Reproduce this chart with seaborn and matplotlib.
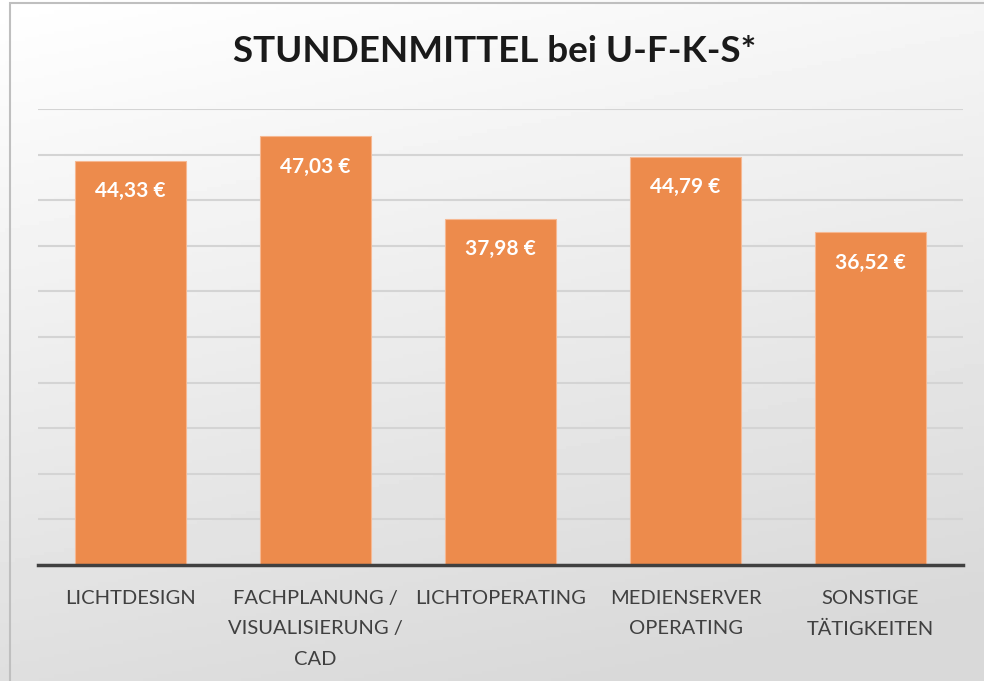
import numpy as np
import pandas as pd
import matplotlib
matplotlib.use("Agg")
import matplotlib.pyplot as plt
from matplotlib.patches import Rectangle
import seaborn as sns

# chart data
categories = ["LICHTDESIGN", "FACHPLANUNG /\nVISUALISIERUNG /\nCAD", "LICHTOPERATING",
              "MEDIENSERVER\nOPERATING", "SONSTIGE\nTÄTIGKEITEN"]
values = [44.33, 47.03, 37.98, 44.79, 36.52]
title = "STUNDENMITTEL bei U-F-K-S*"

sns.set_theme(style="white")
plt.rcParams['font.family'] = ['Lato', 'DejaVu Sans']

W, H = 984, 681
fig = plt.figure(figsize=(W / 100, H / 100), dpi=100)

# gradient background (white top-left to light gray bottom)
bg = fig.add_axes([0, 0, 1, 1], zorder=-10)
yy, xx = np.mgrid[0:1:200j, 0:1:200j]
shade = 1.0 - 0.15 * np.clip(0.85 * yy + 0.25 * xx, 0, 1)
bg.imshow(shade, cmap="gray", vmin=0, vmax=1, aspect="auto",
          extent=[0, 1, 0, 1], origin="upper")
bg.axis("off")

# outer frame
fig.patches.append(Rectangle((10 / W, -0.01), 1.02, 1 - 3 / H + 0.01, transform=fig.transFigure,
                             fill=False, edgecolor="#BFBFBF", linewidth=1.5))

left, right, bottom, top = 38, 963, 565, 109
ax = fig.add_axes([left / W, 1 - bottom / H, (right - left) / W, (bottom - top) / H])
ax.patch.set_alpha(0)

df = pd.DataFrame({"cat": categories, "val": values})
sns.barplot(data=df, x="cat", y="val", ax=ax, color="#ED8B4C", width=0.605,
            saturation=1, edgecolor="#F6B892", linewidth=0.8, zorder=3)

ax.set_ylim(0, 50)
ax.set_xlim(-0.5, 4.5)
ax.set_yticks(np.arange(5, 51, 5))
ax.yaxis.grid(True, color="#D4D4D4", linewidth=1.5, zorder=0)
ax.set_axisbelow(True)
ax.tick_params(axis="y", left=False, labelleft=False)
ax.tick_params(axis="x", bottom=False, pad=12)
for s in ["left", "right", "top"]:
    ax.spines[s].set_visible(False)
ax.spines["bottom"].set_color("#404040")
ax.spines["bottom"].set_linewidth(2.5)
ax.spines["bottom"].set_zorder(5)
ax.set_xlabel("")
ax.set_ylabel("")
for lbl in ax.get_xticklabels():
    lbl.set_fontsize(14.5)
    lbl.set_color("#404040")
    lbl.set_linespacing(1.95)
    lbl.set_verticalalignment("top")

for i, v in enumerate(values):
    ax.annotate(f"{v:.2f}".replace(".", ",") + " €", (i, v), xytext=(0, -22),
                textcoords="offset points", ha="center", va="center",
                fontsize=15, fontweight="bold", color="white", zorder=6)

fig.text(0.503, 1 - 51 / H, title, ha="center", va="center", fontsize=26.5,
         fontweight="bold", color="#1A1A1A")

fig.savefig("out.png", dpi=100)
